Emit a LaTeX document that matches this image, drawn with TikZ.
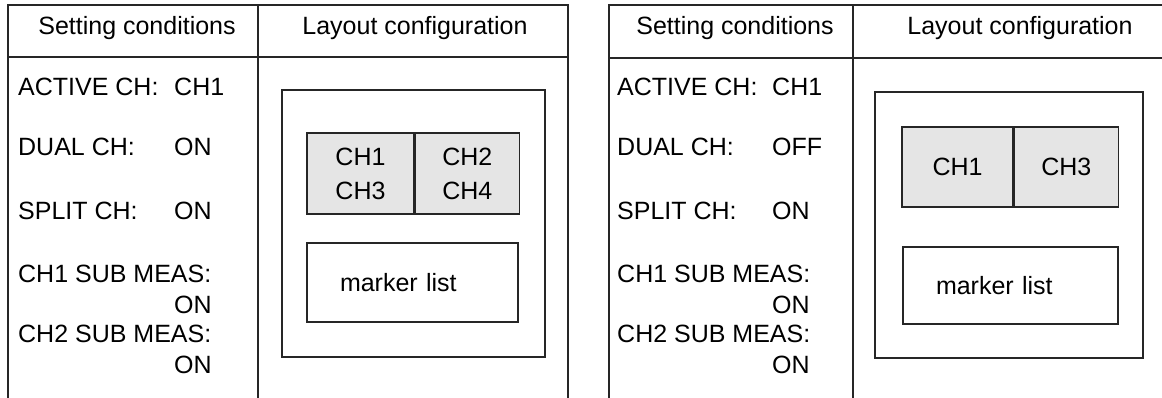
\documentclass[tikz,border=0pt]{standalone}
\usepackage{fontspec}
\setmainfont{Liberation Sans}
\usetikzlibrary{positioning}

\begin{document}
\begin{tikzpicture}[
  x=1pt, y=-1pt,
  rule/.style={line width=1.3pt, draw=black!85},
  frame/.style={draw=black!85, line width=1.3pt, inner sep=0pt},
  cell/.style={frame, fill=black!10, align=center, font=\fontsize{25}{34}\selectfont},
  listbox/.style={frame, align=left, inner xsep=33pt, font=\fontsize{25}{30}\selectfont},
  txt/.style={anchor=base west, inner sep=0pt, font=\fontsize{25}{30}\selectfont},
  head/.style={anchor=base, inner sep=0pt, font=\fontsize{25}{30}\selectfont}
]
\useasboundingbox (0,0) rectangle (1162,398);

% left table
\draw[rule] (8,398) -- (8,5) -- (568,5) -- (568,398);
\draw[rule] (258,5) -- (258,398);
\draw[rule] (8,57) -- (568,57);
\node[head] (setL) at (137,35) {Setting conditions};
\node[head] (layL) at (415,35) {Layout configuration};
\node[txt] (actL) at (18,96) {ACTIVE CH:};
\node[txt] (actLv) at (174,96) {CH1};
\node[txt] (dualL) at (18,156) {DUAL CH:};
\node[txt] (dualLv) at (174,156) {ON};
\node[txt] (splitL) at (18,220) {SPLIT CH:};
\node[txt] (splitLv) at (174,220) {ON};
\node[txt] (subaL) at (18,283) {CH1 SUB MEAS:};
\node[txt] (subaLv) at (174,313) {ON};
\node[txt] (subbL) at (18,342) {CH2 SUB MEAS:};
\node[txt] (subbLv) at (174,373) {ON};
\node[frame, minimum width=263, minimum height=267] (outerL) at (413.5,223.5) {};
\node[cell, minimum width=107, minimum height=81] (chaL) at (360.5,173.5) {CH1\\CH3};
\node[cell, minimum width=104, minimum height=81, right=0pt of chaL] (chbL) {CH2\\CH4};
\node[listbox, text width=145, minimum height=79] (markL) at (412.5,282.5) {marker list};

% right table
\draw[rule] (609,398) -- (609,5) -- (1162,5);
\draw[rule] (853,5) -- (853,398);
\draw[rule] (609,58) -- (1162,58);
\node[head] (setR) at (735,35) {Setting conditions};
\node[head] (layR) at (1020,35) {Layout configuration};
\node[txt] (actR) at (617,96) {ACTIVE CH:};
\node[txt] (actRv) at (772,96) {CH1};
\node[txt] (dualR) at (617,156) {DUAL CH:};
\node[txt] (dualRv) at (772,156) {OFF};
\node[txt] (splitR) at (617,220) {SPLIT CH:};
\node[txt] (splitRv) at (772,220) {ON};
\node[txt] (subaR) at (617,283) {CH1 SUB MEAS:};
\node[txt] (subaRv) at (772,313) {ON};
\node[txt] (subbR) at (617,342) {CH2 SUB MEAS:};
\node[txt] (subbRv) at (772,373) {ON};
\node[frame, minimum width=268, minimum height=266] (outerR) at (1009,225) {};
\node[cell, minimum width=111, minimum height=80] (chaR) at (957.5,167) {CH1};
\node[cell, minimum width=104, minimum height=80, right=0pt of chaR] (chbR) {CH3};
\node[listbox, text width=149, minimum height=77] (markR) at (1010.5,285.5) {marker list};
\end{tikzpicture}
\end{document}
